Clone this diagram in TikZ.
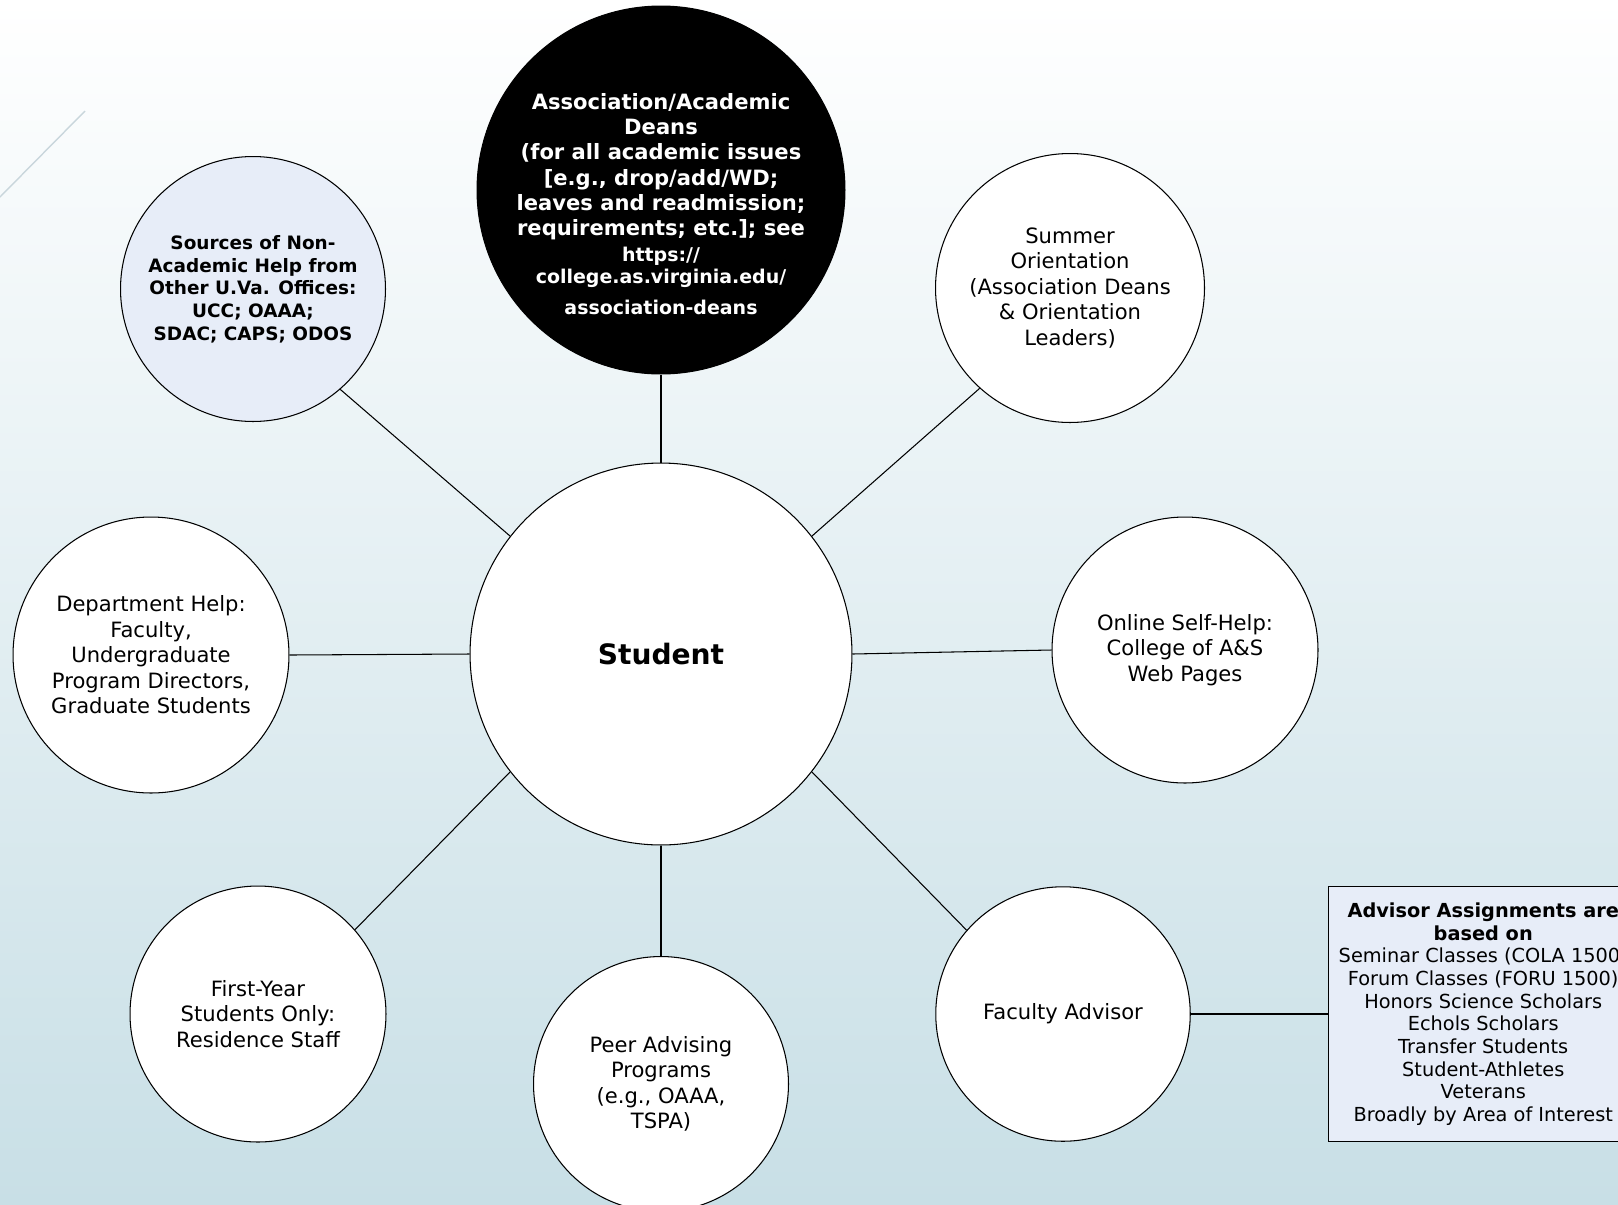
\documentclass[tikz,border=0pt]{standalone}
\usepackage{fontspec}
\setmainfont{DejaVu Sans}
\usepackage{tikz}
\usetikzlibrary{positioning}
\usetikzlibrary{shapes, backgrounds}

\definecolor{bgblue}{HTML}{C8DFE6}
\definecolor{paleblue}{HTML}{E7EDF8}
\definecolor{swoosh}{HTML}{C9D6DC}

\begin{document}
\begin{tikzpicture}[x=0.02cm, y=-0.02cm,
			bubble/.style={draw, circle, fill=white, line width=0.6pt, inner sep=0pt,
				align=center, font=\fontsize{12}{14.5}\selectfont},
			infobox/.style={draw, rectangle, fill=paleblue, line width=0.6pt,
				minimum width=6.2cm, minimum height=5.1cm, align=center,
				font=\fontsize{11}{12.9}\selectfont},
			link/.style={draw, line width=0.6pt}]
			\useasboundingbox (0,0) rectangle (1618,1204);
			\shade[top color=white, bottom color=bgblue] (0,0) rectangle (1618,1204);
			\draw[swoosh, line width=0.8pt] (0,197) -- (85,111);
			
			% hub
			\node[bubble, minimum size=7.64cm, font=\fontsize{16}{19}\selectfont\bfseries](node0) at (661,654) {Student};
			
			% deans (text set apart, it sits low in the disc)
			\node[bubble, fill=black, minimum size=7.36cm](node1) at (661,190) {};
			\node[align=center, text=white, font=\fontsize{12}{14.4}\selectfont\bfseries](node11) at (661,204) {Association/Academic\\Deans\\(for all academic issues\\{[}e.g., drop/add/WD;\\leaves and readmission;\\requirements; etc.{]}; see\\{\fontsize{10.8}{13}\selectfont https://}\\[-1.5pt]{\fontsize{10.8}{13}\selectfont college.as.virginia.edu/}\\[3pt]{\fontsize{10.8}{13}\selectfont association-deans}};
			
			\node[bubble, minimum size=5.38cm](node2) at (1070,288) {Summer\\Orientation\\(Association Deans\\\& Orientation\\Leaders)};
			\node[bubble, minimum size=5.32cm](node3) at (1185,650) {Online Self-Help:\\College of A\&S\\Web Pages};
			\node[bubble, minimum size=5.09cm](node4) at (1063,1014) {Faculty Advisor};
			\node[bubble, minimum size=5.1cm](node5) at (661,1084) {Peer Advising\\Programs\\(e.g., OAAA,\\TSPA)};
			\node[bubble, minimum size=5.12cm](node6) at (258,1014) {First-Year\\Students Only:\\Residence Staff};
			\node[bubble, minimum size=5.52cm](node7) at (151,655) {Department Help:\\Faculty,\\Undergraduate\\Program Directors,\\Graduate Students};
			\node[bubble, fill=paleblue, minimum size=5.3cm, font=\fontsize{10.5}{12.9}\selectfont\bfseries](node8) at (253,289) {Sources of Non-\\Academic Help from\\Other U.Va. Offices:\\UCC; OAAA;\\SDAC; CAPS; ODOS};
			
			\node[infobox, right=2.74cm of node4](node41) {\textbf{Advisor Assignments are}\\\textbf{based on}\\Seminar Classes (COLA 1500)\\Forum Classes (FORU 1500)\\Honors Science Scholars\\Echols Scholars\\Transfer Students\\Student-Athletes\\Veterans\\Broadly by Area of Interest};
			
			\draw[link] (node0.90) edge (node1.-90);
			\draw[link] (node0.38) edge (node2.228);
			\draw[link] (node0.0) edge (node3.180);
			\draw[link] (node0.-38) edge (node4.139);
			\draw[link] (node0.-90) edge (node5.90);
			\draw[link] (node0.218) edge (node6.41);
			\draw[link] (node0.180) edge (node7.0);
			\draw[link] (node0.142) edge (node8.-49);
			\draw[link] (node4.0) edge (node41.west);
			
		\end{tikzpicture}
\end{document}
